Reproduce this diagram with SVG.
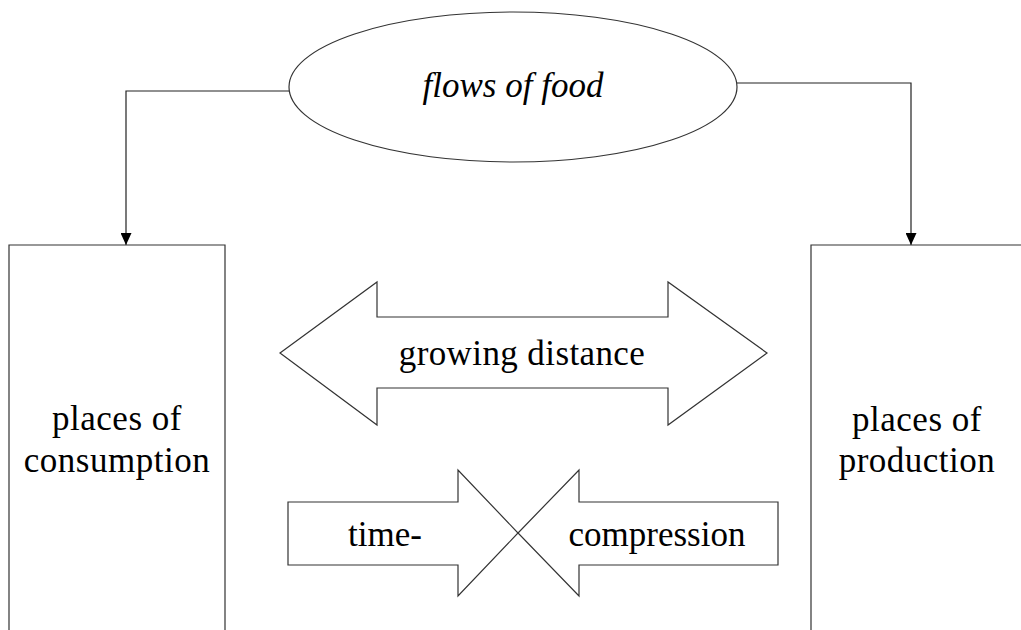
<svg xmlns="http://www.w3.org/2000/svg" width="1021" height="630" viewBox="0 0 1021 630">
<defs>
<style>
.shape{fill:#fff;stroke:#333;stroke-width:1.2}
.conn{fill:none;stroke:#222;stroke-width:1.2}
.lbl{font-family:"Liberation Serif","Times New Roman",serif;font-size:35px;fill:#000;text-anchor:middle}
.it{font-style:italic}
</style>
<marker id="ah" viewBox="0 0 12 11" refX="12" refY="5.5" markerWidth="12" markerHeight="11" markerUnits="userSpaceOnUse" orient="auto">
<path d="M0,0 L12,5.5 L0,11 Z" fill="#000"/>
</marker>
</defs>
<rect width="1021" height="630" fill="#fff"/>
<g id="connectors">
<path class="conn" d="M289,91 H126 V245" marker-end="url(#ah)"/>
<path class="conn" d="M737,83 H911 V245" marker-end="url(#ah)"/>
</g>
<g id="flows">
<ellipse class="shape" cx="513" cy="87" rx="224" ry="75"/>
<text class="lbl it" x="513" y="97">flows of food</text>
</g>
<g id="consumption">
<path class="shape" d="M9,640 V245 H225 V640"/>
<text class="lbl" x="117" y="430" letter-spacing="0.5">places of</text>
<text class="lbl" x="117" y="472" letter-spacing="0.5">consumption</text>
</g>
<g id="production">
<path class="shape" d="M811,640 V245 H1030"/>
<text class="lbl" x="917" y="431" letter-spacing="0.5">places of</text>
<text class="lbl" x="917" y="472" letter-spacing="0.5">production</text>
</g>
<g id="distance">
<polygon class="shape" points="280,353 377,282 377,317 668,317 668,282 767,353 668,425 668,388 377,388 377,425"/>
<text class="lbl" x="522" y="365" letter-spacing="0.4">growing distance</text>
</g>
<g id="compression">
<polygon class="shape" points="288,502 458,502 458,470 518,533 458,596 458,565 288,565"/>
<polygon class="shape" points="778,502 579,502 579,470 518,533 579,596 579,565 778,565"/>
<text class="lbl" x="385" y="546">time-</text>
<text class="lbl" x="657" y="546">compression</text>
</g>
</svg>
